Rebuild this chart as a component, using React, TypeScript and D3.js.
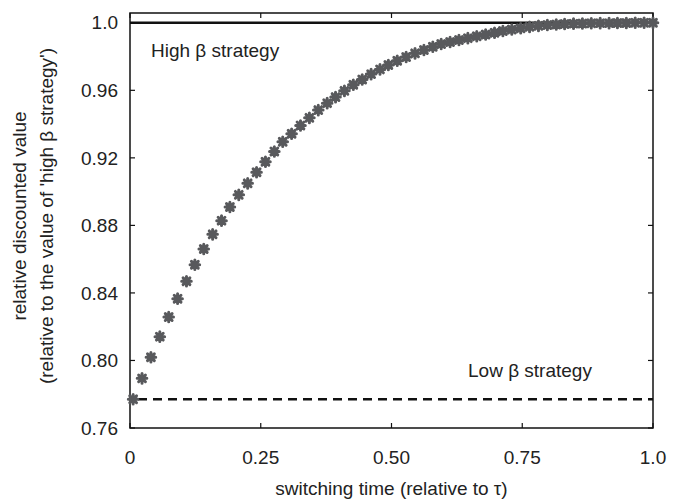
import React, { useEffect, useRef } from "react";
import * as d3 from "d3";

// switching time (relative to tau)
const switchTimes = [
    0.006, 0.023, 0.04, 0.057, 0.074, 0.091, 0.108, 0.124, 0.141, 0.158,
    0.175, 0.191, 0.208, 0.225, 0.242, 0.259, 0.276, 0.292, 0.309, 0.326,
    0.343, 0.36, 0.377, 0.393, 0.41, 0.427, 0.444, 0.461, 0.478, 0.494,
    0.511, 0.528, 0.545, 0.562, 0.579, 0.595, 0.612, 0.629, 0.646, 0.663,
    0.68, 0.697, 0.713, 0.73, 0.747, 0.764, 0.781, 0.798, 0.815, 0.831,
    0.848, 0.865, 0.882, 0.899, 0.916, 0.932, 0.949, 0.966, 0.983, 1.0,
];
// relative discounted value
const relValues = [
    0.777, 0.7894, 0.8019, 0.8141, 0.8257, 0.8366, 0.8469, 0.8567, 0.866, 0.8747,
    0.8828, 0.8909, 0.8981, 0.9049, 0.9115, 0.9177, 0.9238, 0.9295, 0.9343, 0.9392,
    0.9437, 0.9483, 0.9524, 0.956, 0.9597, 0.9633, 0.9664, 0.9696, 0.9724, 0.975,
    0.9775, 0.9797, 0.9819, 0.9839, 0.9858, 0.9874, 0.9886, 0.9898, 0.9909, 0.992,
    0.9931, 0.9941, 0.9951, 0.996, 0.9968, 0.9976, 0.9982, 0.9987, 0.999, 0.9993,
    0.9995, 0.9996, 0.9997, 0.9998, 0.9998, 0.9999, 0.9999, 1.0, 1.0, 1.0,
];
const highBeta = 1.0;
const lowBeta = 0.777;

const xTicks = [0, 0.25, 0.5, 0.75, 1.0];
const xTickLabels = ["0", "0.25", "0.50", "0.75", "1.0"];
const yTicks = [0.76, 0.8, 0.84, 0.88, 0.92, 0.96, 1.0];
const yTickLabels = ["0.76", "0.80", "0.84", "0.88", "0.92", "0.96", "1.0"];

const W = 682;
const H = 500;
const font = "'Liberation Sans', Arial, sans-serif";
const fs = 19;

const drawChart = (el) => {
    const svg = d3.select(el);
    svg.selectAll("*").remove();

    const x = d3.scaleLinear().domain([0, 1]).range([130, 653]);
    const y = d3.scaleLinear().domain([0.76, 1.0058]).range([428, 13]);
    const [x0, x1] = x.range();
    const [yb, yt] = y.range();
    const tick = 5;

    const g = svg.append("g");

    // reference lines
    g.append("line")
        .attr("x1", x(0)).attr("x2", x(1))
        .attr("y1", y(highBeta)).attr("y2", y(highBeta))
        .attr("stroke", "#111").attr("stroke-width", 2.5);
    g.append("line")
        .attr("x1", x(0) + 8).attr("x2", x(1))
        .attr("y1", y(lowBeta)).attr("y2", y(lowBeta))
        .attr("stroke", "#111").attr("stroke-width", 2.5)
        .attr("stroke-dasharray", "9,6");

    // frame
    g.append("rect")
        .attr("x", x0).attr("y", yt)
        .attr("width", x1 - x0).attr("height", yb - yt)
        .attr("fill", "none").attr("stroke", "#111").attr("stroke-width", 1.5);

    // ticks, mirrored, pointing inward
    xTicks.forEach((t, i) => {
        g.append("line").attr("x1", x(t)).attr("x2", x(t)).attr("y1", yb).attr("y2", yb - tick)
            .attr("stroke", "#111").attr("stroke-width", 1.2);
        g.append("line").attr("x1", x(t)).attr("x2", x(t)).attr("y1", yt).attr("y2", yt + tick)
            .attr("stroke", "#111").attr("stroke-width", 1.2);
        g.append("text")
            .attr("x", x(t)).attr("y", yb + 36)
            .attr("text-anchor", "middle")
            .style("font-family", font).style("font-size", `${fs}px`).attr("fill", "#222")
            .text(xTickLabels[i]);
    });
    yTicks.forEach((t, i) => {
        g.append("line").attr("x1", x0).attr("x2", x0 + tick).attr("y1", y(t)).attr("y2", y(t))
            .attr("stroke", "#111").attr("stroke-width", 1.2);
        g.append("line").attr("x1", x1).attr("x2", x1 - tick).attr("y1", y(t)).attr("y2", y(t))
            .attr("stroke", "#111").attr("stroke-width", 1.2);
        g.append("text")
            .attr("x", x0 - 12).attr("y", y(t))
            .attr("dy", "0.35em")
            .attr("text-anchor", "end")
            .style("font-family", font).style("font-size", `${fs}px`).attr("fill", "#222")
            .text(yTickLabels[i]);
    });

    // asterisk markers
    const r = 4.8;
    const star = [0, 45, 90, 135]
        .map((a) => {
            const dx = r * Math.cos((a * Math.PI) / 180);
            const dy = r * Math.sin((a * Math.PI) / 180);
            return `M${-dx},${-dy}L${dx},${dy}`;
        })
        .join("");
    g.append("g")
        .selectAll("path")
        .data(switchTimes)
        .enter()
        .append("path")
        .attr("transform", (d, i) => `translate(${x(d)},${y(relValues[i])})`)
        .attr("d", star)
        .attr("stroke", "#58595c")
        .attr("stroke-width", 3)
        .attr("stroke-linecap", "round")
        .attr("fill", "none");

    // annotations
    g.append("text")
        .attr("x", 151).attr("y", 57)
        .style("font-family", font).style("font-size", `${fs}px`).attr("fill", "#222")
        .text("High β strategy");
    g.append("text")
        .attr("x", 468).attr("y", 377)
        .style("font-family", font).style("font-size", `${fs}px`).attr("fill", "#222")
        .text("Low β strategy");

    // axis titles
    g.append("text")
        .attr("x", (x0 + x1) / 2).attr("y", 495)
        .attr("text-anchor", "middle")
        .style("font-family", font).style("font-size", `${fs}px`).attr("fill", "#222")
        .text("switching time (relative to τ)");
    const yt1 = g.append("text")
        .attr("transform", `translate(26,216) rotate(-90)`)
        .attr("text-anchor", "middle")
        .style("font-family", font).style("font-size", `${fs}px`).attr("fill", "#222");
    yt1.append("tspan").attr("x", 0).attr("y", 0).text("relative discounted value");
    yt1.append("tspan").attr("x", 0).attr("y", 27).text("(relative to the value of 'high β strategy')");
};

export default function App() {
    const ref = useRef(null);
    useEffect(() => {
        drawChart(ref.current);
    }, []);
    return (
        <svg
            ref={ref}
            width={W}
            height={H}
            style={{ position: "absolute", left: 0, top: 0, background: "#fff" }}
        />
    );
}
